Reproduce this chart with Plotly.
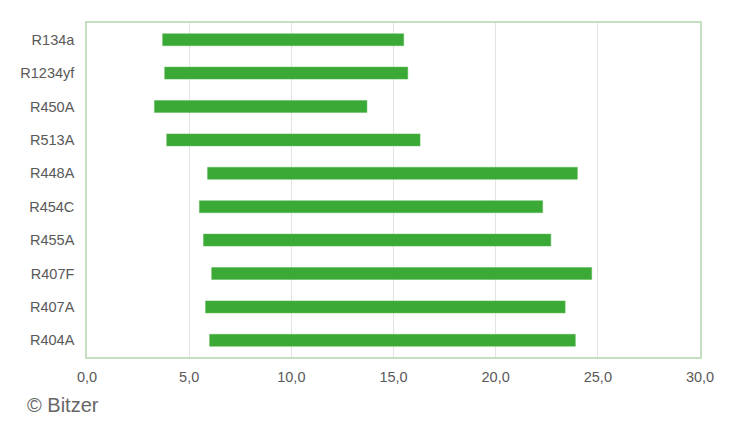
import plotly.graph_objects as go

# refrigerants, top to bottom as drawn
refrigerants = ["R134a", "R1234yf", "R450A", "R513A", "R448A",
                "R454C", "R455A", "R407F", "R407A", "R404A"]
range_low = [3.7, 3.8, 3.3, 3.9, 5.9, 5.5, 5.7, 6.1, 5.8, 6.0]
range_high = [15.5, 15.7, 13.7, 16.3, 24.0, 22.3, 22.7, 24.7, 23.4, 23.9]
x_ticks = [0, 5, 10, 15, 20, 25, 30]

spans = [h - l for l, h in zip(range_low, range_high)]

fig = go.Figure()
fig.add_trace(go.Bar(
    y=refrigerants,
    x=spans,
    base=range_low,
    orientation="h",
    width=0.36,
    marker=dict(color="#3aa935", line=dict(color="#5cbb57", width=0.5)),
    showlegend=False,
))

fig.add_annotation(
    text="© Bitzer",
    xref="paper", yref="paper",
    x=-0.101, y=-0.144,
    xanchor="left", yanchor="middle",
    showarrow=False,
    font=dict(size=20, color="#666666"),
)

# page body adds 8px margin, so the figure is a bit smaller than the window
fig.update_layout(
    width=730, height=413,
    margin=dict(l=77, r=38, t=15, b=64),
    paper_bgcolor="white",
    plot_bgcolor="white",
    separators=",.",
    font=dict(family="Liberation Sans, Arial, sans-serif", size=14.5, color="#595959"),
    bargap=0.64,
)
fig.update_xaxes(
    range=[0, 30],
    tickvals=x_ticks,
    tickformat=".1f",
    showgrid=True,
    gridcolor="#e3e3e3",
    gridwidth=1,
    zeroline=False,
    showline=True,
    linecolor="#c3e0c0",
    linewidth=1.5,
    mirror=True,
    ticks="outside",
    ticklen=6,
    tickcolor="rgba(0,0,0,0)",
)
fig.update_yaxes(
    type="category",
    autorange="reversed",
    showgrid=False,
    showline=True,
    linecolor="#c3e0c0",
    linewidth=1.5,
    mirror=True,
    ticks="outside",
    ticklen=8,
    tickcolor="rgba(0,0,0,0)",
)

fig.write_html("out.html")
